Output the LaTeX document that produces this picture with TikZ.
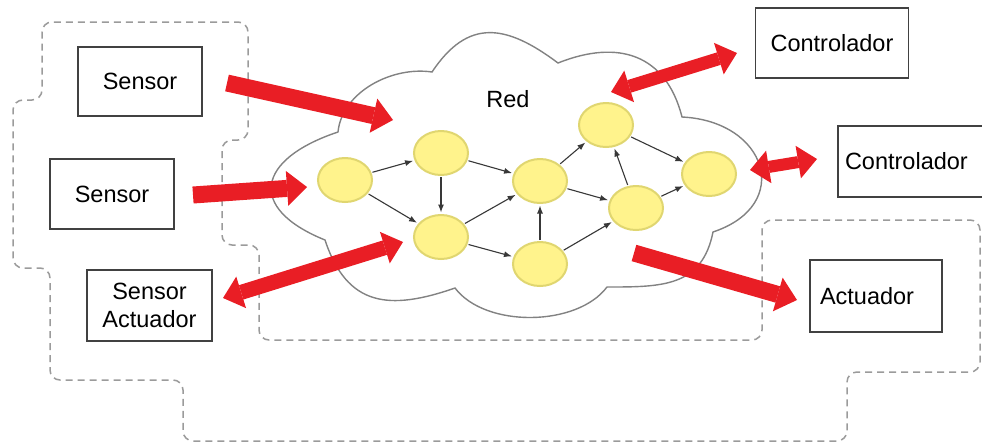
\documentclass[tikz,border=0pt]{standalone}
\usepackage{fontspec}
\setmainfont{Liberation Sans}
\usetikzlibrary{arrows.meta,shapes.geometric}

\definecolor{arrowred}{RGB}{233,30,37}
\definecolor{nodefill}{RGB}{255,243,140}
\definecolor{nodeedge}{RGB}{224,214,112}
\definecolor{dashgray}{RGB}{155,155,155}
\definecolor{cloudgray}{RGB}{130,130,130}
\definecolor{boxgray}{RGB}{65,65,65}

\begin{document}
\begin{tikzpicture}[x=1pt,y=-1pt,
  device/.style={draw=boxgray,line width=1.8pt,fill=white,inner sep=0pt,
    font=\fontsize{23.5}{28}\selectfont},
  netnode/.style={ellipse,draw=nodeedge,fill=nodefill,line width=2pt,
    minimum width=54pt,minimum height=44pt,inner sep=0pt},
  link/.style={draw=black!78,line width=1.1pt,-{Latex[length=8pt,width=6pt]},
    shorten >=1.5pt,shorten <=1pt},
  flow/.style={draw=arrowred,line width=17pt,
    -{Triangle[length=20pt,width=35pt,line width=0pt]}},
  flowboth/.style={draw=arrowred,line width=#1,
    {Triangle[length=19pt,width=33pt,line width=0pt]}-{Triangle[length=19pt,width=33pt,line width=0pt]}},
  flowboth/.default=14pt,
]
\useasboundingbox (0,0) rectangle (982,445);

% dashed outline grouping the field devices
\draw[dashgray,line width=1.5pt,dash pattern=on 7pt off 5pt,rounded corners=10pt]
  (140,22) -- (248,22) -- (248,140) -- (222,140) -- (222,245) -- (259,245)
  -- (259,340) -- (762,340) -- (762,220) -- (980,220) -- (980,372)
  -- (847,372) -- (847,441) -- (183,441) -- (183,380) -- (50,380)
  -- (50,268) -- (13,268) -- (13,100) -- (42,100) -- (42,22) -- cycle;

% network cloud
\draw[cloudgray,line width=1.4pt,fill=white]
  (325,240) .. controls (246,208) and (257,159) .. (338,132)
  .. controls (342,92) and (392,66) .. (432,72)
  .. controls (468,18) and (506,24) .. (558,63)
  .. controls (618,39) and (666,54) .. (682,117)
  .. controls (767,121) and (794,205) .. (713,232)
  .. controls (702,287) and (662,287) .. (607,287)
  .. controls (577,327) and (485,328) .. (455,288)
  .. controls (389,311) and (347,306.5) .. (325,240) -- cycle;
\node[font=\fontsize{23.5}{28}\selectfont] (red) at (508,99) {Red};

% network nodes
\node[netnode] (n1) at (345,180) {};
\node[netnode] (n2) at (441,153) {};
\node[netnode] (n3) at (441,237) {};
\node[netnode] (n4) at (540,181) {};
\node[netnode] (n5) at (540,264) {};
\node[netnode] (n6) at (606,125) {};
\node[netnode] (n7) at (636,208) {};
\node[netnode] (n8) at (709,174) {};

% links between network nodes
\draw[link] (n1) -- (n2);
\draw[link] (n1) -- (n3);
\draw[link] (n2) -- (n3);
\draw[link] (n2) -- (n4);
\draw[link] (n3) -- (n4);
\draw[link] (n3) -- (n5);
\draw[link] (n5) -- (n4);
\draw[link] (n4) -- (n6);
\draw[link] (n4) -- (n7);
\draw[link] (n5) -- (n7);
\draw[link] (n7) -- (n6);
\draw[link] (n6) -- (n8);
\draw[link] (n7) -- (n8);

% devices
\node[device,minimum width=124pt,minimum height=69pt] (s1) at (140,81.5) {Sensor};
\node[device,minimum width=124pt,minimum height=70pt] (s2) at (112,194) {Sensor};
\node[device,minimum width=125pt,minimum height=71pt,align=center] (sa) at (149.5,305.5) {Sensor\\Actuador};
\node[device,minimum width=153pt,minimum height=70pt] (c1) at (832,43) {Controlador};
\node[device,minimum width=152pt,minimum height=71pt,text width=138pt,align=left] (c2) at (914,161.5) {Controlador};
\node[device,minimum width=132pt,minimum height=72pt,text width=112pt,align=left] (ac) at (876,296) {Actuador};

% end points of the data flows
\coordinate (fa1) at (227,83);   \coordinate (fa2) at (393,120);
\coordinate (fb1) at (193,195);  \coordinate (fb2) at (307,187);
\coordinate (fc1) at (223,298);  \coordinate (fc2) at (403,242);
\coordinate (fd1) at (611,92);   \coordinate (fd2) at (737,53);
\coordinate (fe1) at (750,170);  \coordinate (fe2) at (817,159);
\coordinate (ff1) at (634,253);  \coordinate (ff2) at (797,300);

% data flows
\draw[flow] (fa1) -- (fa2);
\draw[flow] (fb1) -- (fb2);
\draw[flowboth=15pt] (fc1) -- (fc2);
\draw[flowboth=13pt] (fd1) -- (fd2);
\draw[flowboth=12pt] (fe1) -- (fe2);
\draw[flow] (ff1) -- (ff2);
\end{tikzpicture}
\end{document}
